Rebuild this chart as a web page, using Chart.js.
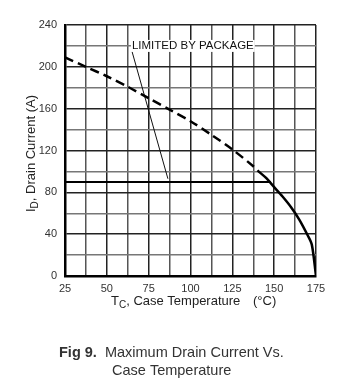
<!DOCTYPE html>
<html>
<head>
<meta charset="utf-8">
<script src="https://cdn.jsdelivr.net/npm/chart.js@4/dist/chart.umd.min.js"></script>
<style>
  html, body { margin: 0; padding: 0; background: #fff; }
  #wrap { width: 338px; height: 383px; }
</style>
</head>
<body>
<div id="wrap"><canvas id="c" width="338" height="383"></canvas></div>
<script>
// Maximum drain current vs case temperature (Fig 9)
const caseTemp = [25, 37.5, 50, 62.5, 75, 87.5, 100, 112.5, 125, 137.5, 140, 145, 150, 155, 160, 165, 170, 172.5, 175];
const drainCurrent = [209, 200, 191, 181, 170, 159, 148, 135, 121, 105, 101, 94, 85, 76, 66, 54, 39, 30, 0];
const dashedBelow = 140; // curve is dashed up to this temperature

const packageTemp = [25, 148];
const packageCurrent = [90, 90];

// leader line from the label down to the package limit
const leaderTemp = [65, 86.5];
const leaderCurrent = [215, 93];
const leaderText = 'LIMITED BY PACKAGE';

const xTicks = [25, 50, 75, 100, 125, 150, 175];
const yTicks = [0, 40, 80, 120, 160, 200, 240];
const xGrid = [25, 37.5, 50, 62.5, 75, 87.5, 100, 112.5, 125, 137.5, 150, 162.5, 175];
const yGrid = [0, 20, 40, 60, 80, 100, 120, 140, 160, 180, 200, 220, 240];

const font = '"Liberation Sans", Arial, sans-serif';

const toPts = (xs, ys) => xs.map((x, i) => ({ x: x, y: ys[i] }));

const textPlugin = {
  id: 'texts',
  afterDatasetsDraw(chart) {
    const ctx = chart.ctx;
    const xs = chart.scales.x, ys = chart.scales.y;
    ctx.save();
    // label for the package limit
    ctx.font = '11.5px ' + font;
    const lx = xs.getPixelForValue(leaderTemp[0]) - 1;
    const ly = ys.getPixelForValue(220);
    const w = ctx.measureText(leaderText).width;
    ctx.fillStyle = '#fff';
    ctx.fillRect(lx, ly - 6, w + 2, 12);
    ctx.fillStyle = '#111';
    ctx.textBaseline = 'middle';
    ctx.textAlign = 'left';
    ctx.fillText(leaderText, lx + 1, ly);
    ctx.restore();
  },
  afterDraw(chart) {
    const ctx = chart.ctx;
    ctx.save();
    ctx.fillStyle = '#222';
    ctx.textBaseline = 'alphabetic';

    // x axis title with subscript
    ctx.font = '13px ' + font;
    let x = 111, y = 305;
    ctx.textAlign = 'left';
    ctx.fillText('T', x, y);
    x += ctx.measureText('T').width;
    ctx.font = '10px ' + font;
    ctx.fillText('C', x, y + 3);
    x += ctx.measureText('C').width;
    ctx.font = '13px ' + font;
    ctx.fillText(', Case Temperature', x, y);
    ctx.fillText('(\u00B0C)', 253, y);

    // y axis title, rotated
    ctx.translate(35, 212);
    ctx.rotate(-Math.PI / 2);
    ctx.font = '13px ' + font;
    x = 0; y = 0;
    ctx.fillText('I', x, y);
    x += ctx.measureText('I').width;
    ctx.font = '10px ' + font;
    ctx.fillText('D', x, y + 3);
    x += ctx.measureText('D').width;
    ctx.font = '13px ' + font;
    ctx.fillText(', Drain Current (A)', x, y);
    ctx.setTransform(1, 0, 0, 1, 0, 0);

    // caption
    ctx.fillStyle = '#333';
    const bold = 'Fig 9.';
    const rest = '  Maximum Drain Current Vs.';
    ctx.font = 'bold 14.5px ' + font;
    ctx.fillText(bold, 59, 357);
    const bw = ctx.measureText(bold).width;
    ctx.font = '14.5px ' + font;
    ctx.fillText(rest, 59 + bw, 357);
    ctx.fillText('Case Temperature', 112, 375);
    ctx.restore();
  }
};

new Chart(document.getElementById('c'), {
  type: 'scatter',
  data: {
    datasets: [
      {
        data: toPts(caseTemp, drainCurrent),
        showLine: true,
        borderColor: '#000',
        borderWidth: 2.5,
        pointRadius: 0,
        tension: 0.3,
        segment: {
          borderDash: c => c.p1.parsed.x <= dashedBelow ? [9, 5] : undefined
        }
      },
      {
        data: toPts(packageTemp, packageCurrent),
        showLine: true,
        borderColor: '#000',
        borderWidth: 2,
        pointRadius: 0
      },
      {
        data: toPts(leaderTemp, leaderCurrent),
        showLine: true,
        borderColor: '#111',
        borderWidth: 1,
        pointRadius: 0
      }
    ]
  },
  options: {
    responsive: false,
    animation: false,
    events: [],
    layout: { padding: { left: 0, top: 25, right: 22, bottom: 0 } },
    plugins: { legend: { display: false }, tooltip: { enabled: false } },
    scales: {
      x: {
        type: 'linear',
        min: 25,
        max: 175,
        afterBuildTicks: s => { s.ticks = xGrid.map(v => ({ value: v })); },
        afterFit: s => { s.height = 107; },
        grid: {
          color: c => (xTicks.includes(c.tick.value) ? '#222' : '#555'),
          lineWidth: 1.5,
          drawTicks: false
        },
        border: { color: '#000', width: 2.5 },
        ticks: {
          padding: 6,
          maxRotation: 0,
          autoSkip: false,
          color: '#333',
          font: { family: font, size: 11 },
          callback: v => (xTicks.includes(v) ? String(v) : '')
        }
      },
      y: {
        type: 'linear',
        min: 0,
        max: 240,
        afterBuildTicks: s => { s.ticks = yGrid.map(v => ({ value: v })); },
        afterFit: s => { s.width = 65; },
        grid: {
          color: c => (yTicks.includes(c.tick.value) ? '#222' : '#777'),
          lineWidth: 1.5,
          drawTicks: false
        },
        border: { color: '#000', width: 2.5 },
        ticks: {
          padding: 8,
          autoSkip: false,
          color: '#333',
          font: { family: font, size: 11 },
          callback: v => (yTicks.includes(v) ? String(v) : '')
        }
      }
    }
  },
  plugins: [textPlugin]
});
</script>
</body>
</html>
